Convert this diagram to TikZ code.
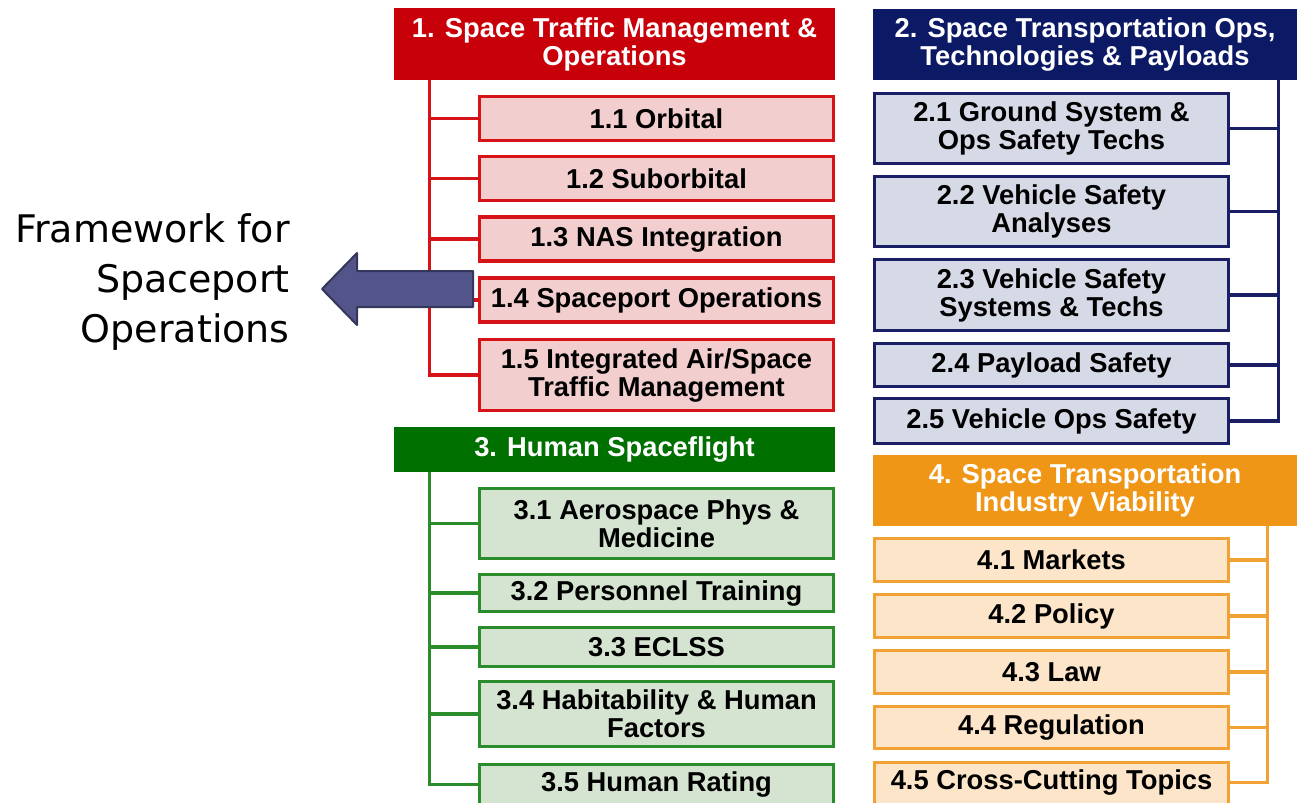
\documentclass[tikz,border=0pt]{standalone}
\usepackage{fontspec}
\usepackage{tikz}
\usetikzlibrary{positioning}
\newfontfamily\boxfont{Liberation Sans}
\newfontfamily\sidefont{DejaVu Sans}
\definecolor{stmred}{RGB}{200,0,10}
\definecolor{stmline}{RGB}{214,20,24}
\definecolor{stmfill}{RGB}{243,206,206}
\definecolor{stonavy}{RGB}{12,26,102}
\definecolor{stoline}{RGB}{26,30,100}
\definecolor{stofill}{RGB}{214,218,231}
\definecolor{hsfgreen}{RGB}{0,112,0}
\definecolor{hsfline}{RGB}{42,140,42}
\definecolor{hsffill}{RGB}{213,228,208}
\definecolor{stiorange}{RGB}{240,150,22}
\definecolor{stiline}{RGB}{242,162,52}
\definecolor{stifill}{RGB}{252,229,201}
\definecolor{arrowfill}{RGB}{82,84,138}
\definecolor{arrowline}{RGB}{52,54,92}
\tikzset{
    head/.style={
           rectangle,
           inner sep=0pt,
           text=white,
           align=center,
           font=\boxfont\bfseries\fontsize{20.5}{21}\selectfont,
           },
}
\tikzset{
    sub/.style={
           rectangle,
           line width=2.6pt,
           inner sep=0pt,
           minimum width=265.5pt,
           align=center,
           font=\boxfont\bfseries\fontsize{20.5}{21}\selectfont,
           },
}
\tikzset{
    cutoff/.style={
           anchor=north,
           minimum height=40pt,
           text height=15pt,
           text depth=15pt,
           },
}
\tikzset{
    tree/.style={
           line width=2.6pt,
           },
}

\begin{document}
\begin{tikzpicture}[x=0.75pt,y=-0.75pt]
\useasboundingbox (0,0) rectangle (1297,803);

% 1. space traffic management
\node[head, fill=stmred, minimum width=330.75pt, minimum height=54pt] (h1) at (614.5,44) {1. Space Traffic Management \&\\Operations};
\node[sub, draw=stmline, fill=stmfill, minimum height=33pt] (c11) at (656.5,118.5) {1.1 Orbital};
\node[sub, draw=stmline, fill=stmfill, minimum height=33pt] (c12) at (656.5,178.5) {1.2 Suborbital};
\node[sub, draw=stmline, fill=stmfill, minimum height=33pt] (c13) at (656.5,239) {1.3 NAS Integration};
\node[sub, draw=stmline, fill=stmfill, minimum height=33pt] (c14) at (656.5,300) {1.4 Spaceport Operations};
\node[sub, draw=stmline, fill=stmfill, minimum height=53.25pt] (c15) at (656.5,375) {1.5 Integrated Air/Space\\Traffic Management};
\coordinate (t1) at ([xshift=27pt]h1.south west);
\draw[tree, stmline] (t1) |- (c15.west);
\foreach \i in {1,...,4}
    \draw[tree, stmline] (c1\i.west) -- (c1\i.west -| t1);

% 2. transportation ops
\node[head, fill=stonavy, minimum width=318pt, minimum height=53.25pt] (h2) at (1085,44.5) {2. Space Transportation Ops,\\Technologies \& Payloads};
\node[sub, draw=stoline, fill=stofill, minimum height=52.5pt] (c21) at (1051.5,128.5) {2.1 Ground System \&\\Ops Safety Techs};
\node[sub, draw=stoline, fill=stofill, minimum height=52.5pt] (c22) at (1051.5,211.5) {2.2 Vehicle Safety\\Analyses};
\node[sub, draw=stoline, fill=stofill, minimum height=53.25pt] (c23) at (1051.5,295) {2.3 Vehicle Safety\\Systems \& Techs};
\node[sub, draw=stoline, fill=stofill, minimum height=32.25pt] (c24) at (1051.5,365) {2.4 Payload Safety};
\node[sub, draw=stoline, fill=stofill, minimum height=33.75pt] (c25) at (1051.5,421) {2.5 Vehicle Ops Safety};
\coordinate (t2) at ([xshift=-14.25pt]h2.south east);
\draw[tree, stoline] (t2) |- (c25.east);
\foreach \i in {1,...,4}
    \draw[tree, stoline] (c2\i.east) -- (c2\i.east -| t2);

% 3. human spaceflight
\node[head, fill=hsfgreen, minimum width=330.75pt, minimum height=33.75pt] (h3) at (614.5,449.5) {3. Human Spaceflight};
\node[sub, draw=hsfline, fill=hsffill, minimum height=52.5pt] (c31) at (656.5,523.5) {3.1 Aerospace Phys \&\\Medicine};
\node[sub, draw=hsfline, fill=hsffill, minimum height=27.75pt] (c32) at (656.5,593) {3.2 Personnel Training};
\node[sub, draw=hsfline, fill=hsffill, minimum height=29.25pt] (c33) at (656.5,647) {3.3 ECLSS};
\node[sub, draw=hsfline, fill=hsffill, minimum height=48.75pt] (c34) at (656.5,714) {3.4 Habitability \& Human\\Factors};
\node[sub, cutoff, draw=hsfline, fill=hsffill] (c35) at (656.5,763) {3.5 Human Rating};
\coordinate (t3) at ([xshift=27pt]h3.south west);
\draw[tree, hsfline] (t3) |- ([yshift=5.25pt]c35.west);
\foreach \i in {1,...,4}
    \draw[tree, hsfline] (c3\i.west) -- (c3\i.west -| t3);

% 4. industry viability
\node[head, fill=stiorange, minimum width=318pt, minimum height=53.25pt] (h4) at (1085,490.5) {4. Space Transportation\\Industry Viability};
\node[sub, draw=stiline, fill=stifill, minimum height=32.25pt] (c41) at (1051.5,560) {4.1 Markets};
\node[sub, draw=stiline, fill=stifill, minimum height=32.25pt] (c42) at (1051.5,616) {4.2 Policy};
\node[sub, draw=stiline, fill=stifill, minimum height=32.25pt] (c43) at (1051.5,672) {4.3 Law};
\node[sub, draw=stiline, fill=stifill, minimum height=31.5pt] (c44) at (1051.5,727.5) {4.4 Regulation};
\node[sub, cutoff, draw=stiline, fill=stifill] (c45) at (1051.5,761) {4.5 Cross-Cutting Topics};
\coordinate (t4) at ([xshift=-22.5pt]h4.south east);
\draw[tree, stiline] (t4) |- ([yshift=5.25pt]c45.east);
\foreach \i in {1,...,4}
    \draw[tree, stiline] (c4\i.east) -- (c4\i.east -| t4);

% framework arrow
\node[anchor=east, align=right, inner sep=0pt, font=\sidefont\fontsize{28.5}{37.5}\selectfont] (frame) at (290,282) {Framework for\\Spaceport\\Operations};
\filldraw[fill=arrowfill, draw=arrowline, line width=1.5pt, line join=round]
    (473,271) -- (357,271) -- (357,253) -- (322,289) -- (357,325) -- (357,307) -- (473,307) -- cycle;
\end{tikzpicture}
\end{document}
